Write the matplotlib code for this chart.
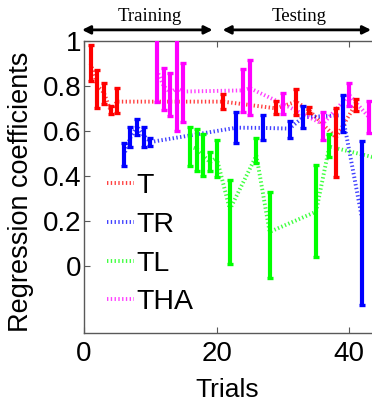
import numpy as np
import matplotlib
matplotlib.use('Agg')
from matplotlib import pyplot as plt

plt.rcParams['font.family'] = 'Liberation Sans'

# trial index, mean and lower/upper ends of the bars for every condition
t_trials = [1, 2, 3, 4, 5, 21, 29, 32, 34, 38, 41]
t_mean = [0.90, 0.80, 0.77, 0.69, 0.73, 0.73, 0.70, 0.73, 0.69, 0.57, 0.72]
t_low = [0.82, 0.70, 0.72, 0.675, 0.68, 0.698, 0.676, 0.67, 0.68, 0.394, 0.69]
t_high = [0.98, 0.87, 0.815, 0.71, 0.79, 0.764, 0.732, 0.788, 0.705, 0.70, 0.742]

tr_trials = [6, 7, 8, 9, 10, 23, 27, 31, 33, 39, 42]
tr_mean = [0.49, 0.57, 0.62, 0.58, 0.55, 0.614, 0.613, 0.61, 0.66, 0.67, 0.20]
tr_low = [0.444, 0.529, 0.582, 0.529, 0.533, 0.544, 0.558, 0.569, 0.613, 0.596, -0.176]
tr_high = [0.548, 0.618, 0.653, 0.618, 0.569, 0.684, 0.67, 0.643, 0.71, 0.759, 0.554]

tl_trials = [16, 17, 18, 19, 20, 22, 26, 28, 35, 37, 44]
tl_mean = [0.53, 0.52, 0.49, 0.46, 0.48, 0.25, 0.49, 0.15, 0.24, 0.53, 0.48]
tl_low = [0.444, 0.419, 0.40, 0.419, 0.394, 0.009, 0.458, -0.055, 0.039, 0.484, 0.43]
tl_high = [0.616, 0.607, 0.585, 0.504, 0.557, 0.379, 0.569, 0.327, 0.449, 0.584, 0.53]

tha_trials = [11, 12, 13, 14, 15, 24, 25, 30, 36, 40, 43]
tha_mean = [0.87, 0.80, 0.77, 0.79, 0.775, 0.78, 0.79, 0.72, 0.63, 0.76, 0.66]
tha_low = [0.73, 0.693, 0.664, 0.601, 0.641, 0.684, 0.67, 0.676, 0.561, 0.71, 0.591]
tha_high = [1.03, 0.879, 0.856, 1.03, 0.90, 0.877, 0.914, 0.769, 0.683, 0.813, 0.735]

series = [
    ('T', t_trials, t_mean, t_low, t_high, '#ff0000'),
    ('TR', tr_trials, tr_mean, tr_low, tr_high, '#0000ff'),
    ('TL', tl_trials, tl_mean, tl_low, tl_high, '#00ff00'),
    ('THA', tha_trials, tha_mean, tha_low, tha_high, '#ff00ff'),
]

yticks = [0, 0.2, 0.4, 0.6, 0.8, 1]
ytick_labels = ['0', '0.2', '0.4', '0.6', '0.8', '1']
xticks = [0, 20, 40]

fig = plt.figure(figsize=(3.72, 4.03), dpi=100)
ax = fig.add_axes([0.2258, 0.1737, 0.802, 0.7246])

for name, x, m, lo, hi, c in series:
    m = np.array(m)
    err = [m - np.array(lo), np.array(hi) - m]
    ax.plot(x, m, color=c, lw=2.8, linestyle=(0, (0.35, 0.62)), alpha=0.75, label=name, zorder=2)
    ax.errorbar(x, m, yerr=err, fmt='none', ecolor=c, elinewidth=3,
                capsize=2.2, capthick=2.4, zorder=3)

ax.set_xlim(0, 45)
ax.set_ylim(-0.3, 1)
ax.set_xticks(xticks)
ax.set_yticks(yticks)
ax.set_yticklabels(ytick_labels)
ax.tick_params(direction='in', top=True, right=True, length=4, width=0.8,
               color='0.35', labelsize=20)
ax.tick_params(axis='x', pad=6)
ax.tick_params(axis='y', pad=2)
for s in ax.spines.values():
    s.set_color('0.35')
    s.set_linewidth(1)

ax.set_xlabel('Trials', fontsize=19)
ax.xaxis.set_label_coords(0.48, -0.155)
ax.set_ylabel('Regression coefficients', fontsize=19.5)
ax.yaxis.set_label_coords(-0.168, 0.485)

leg = ax.legend(loc='upper left', bbox_to_anchor=(0.076, 0.548), frameon=False,
                fontsize=20.5, handlelength=0.95, handletextpad=0.08, labelspacing=0.45,
                borderpad=0, borderaxespad=0)

# training / testing arrows above the axes
arrow_kw = dict(arrowstyle='<|-|>', color='black', lw=2, mutation_scale=12,
                shrinkA=0, shrinkB=0)
ax.annotate('', xy=(-0.3, 1.038), xytext=(19.4, 1.038),
            xycoords=('data', 'axes fraction'), textcoords=('data', 'axes fraction'),
            arrowprops=arrow_kw, annotation_clip=False)
ax.annotate('', xy=(20.9, 1.038), xytext=(43.3, 1.038),
            xycoords=('data', 'axes fraction'), textcoords=('data', 'axes fraction'),
            arrowprops=arrow_kw, annotation_clip=False)
ax.text(9.9, 1.085, 'Training', transform=ax.get_xaxis_transform(), ha='center',
        va='center', fontsize=13.5, family='Liberation Serif')
ax.text(32.4, 1.085, 'Testing', transform=ax.get_xaxis_transform(), ha='center',
        va='center', fontsize=13.5, family='Liberation Serif')

fig.savefig('out.png', dpi=100)
